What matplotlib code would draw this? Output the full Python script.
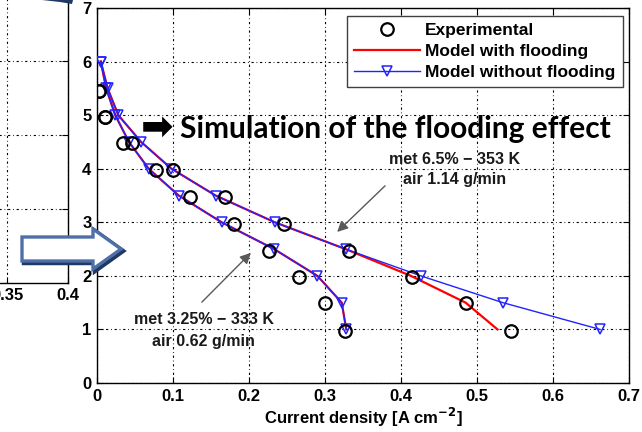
import matplotlib
matplotlib.use("Agg")
import matplotlib.pyplot as plt
from matplotlib.patches import Polygon
import numpy as np

plt.rcParams['font.family'] = ['Liberation Sans', 'DejaVu Sans']
plt.rcParams['font.weight'] = 'bold'

# ---- data ----
# voltage levels used for model and experiment
v_model = [6.0, 5.5, 5.0, 4.5, 4.0, 3.5, 3.0, 2.5, 2.0, 1.5, 1.0]
v_exp = [5.45, 4.96, 4.48, 3.97, 3.47, 2.97, 2.47, 1.98, 1.50, 0.98]

# met 3.25% - 333 K, air 0.62 g/min
i_exp_333 = [0.002, 0.011, 0.034, 0.077, 0.123, 0.180, 0.226, 0.266, 0.300, 0.326]
i_nofl_333 = [0.005, 0.012, 0.024, 0.042, 0.068, 0.1075, 0.164, 0.233, 0.290, 0.322, 0.328]
i_fl_333 = [0.005, 0.012, 0.024, 0.042, 0.068, 0.1075, 0.164, 0.233, 0.290, 0.322, 0.328]

# met 6.5% - 353 K, air 1.14 g/min
i_exp_353 = [0.002, 0.011, 0.046, 0.100, 0.169, 0.246, 0.331, 0.415, 0.486, 0.545]
i_nofl_353 = [0.005, 0.014, 0.028, 0.058, 0.098, 0.156, 0.234, 0.327, 0.426, 0.534, 0.662]
i_fl_353 = [0.005, 0.014, 0.028, 0.058, 0.098, 0.156, 0.234, 0.327, 0.413, 0.485, 0.527]

W, H = 642, 432
fig = plt.figure(figsize=(W / 100, H / 100), dpi=100)


def fx(px):
    return px / W


def fy(py):
    return 1 - py / H


grid_ls = (0, (2, 2.5, 0.7, 2.5))

# ---- partial chart cut at the left edge ----
axl = fig.add_axes([fx(-200), fy(283), fx(268), fy(-87) - fy(283)])
axl.set_xlim(0.1803, 0.4)
axl.set_ylim(0, 5)
axl.set_xticks([0.2, 0.25, 0.3, 0.35, 0.4])
axl.set_xticklabels(['0.2', '0.25', '0.3', '0.35', '0.4'])
axl.set_yticks([1, 2, 3, 4])
axl.set_yticklabels([])
axl.grid(True, color='k', linestyle=grid_ls, linewidth=0.8)
axl.tick_params(direction='in', length=4, labelsize=12, top=True, right=True)
for t in axl.get_xticklabels():
    t.set_fontweight('bold')
for s in axl.spines.values():
    s.set_linewidth(1.0)

# ---- main chart ----
ax = fig.add_axes([fx(97), fy(383), fx(629 - 97), fy(8) - fy(383)])

ax.plot(i_fl_333, v_model, color='#ff0000', lw=1.6, zorder=3)
ax.plot(i_fl_353, v_model, color='#ff0000', lw=1.6, zorder=3, label='Model with flooding')
ax.plot(i_nofl_333, v_model, color='#2222ff', lw=1.0, marker='v', ms=7.5,
        mfc='none', mec='#2222ff', mew=1.1, zorder=4)
ax.plot(i_nofl_353, v_model, color='#2222ff', lw=1.0, marker='v', ms=7.5,
        mfc='none', mec='#2222ff', mew=1.1, zorder=4, label='Model without flooding')
ax.plot(i_exp_333, v_exp, 'o', ms=9, mfc='none', mec='k', mew=1.6, zorder=5)
ax.plot(i_exp_353, v_exp, 'o', ms=9, mfc='none', mec='k', mew=1.6, zorder=5,
        label='Experimental')

ax.set_xlim(0, 0.7)
ax.set_ylim(0, 7)
ax.set_xticks(np.arange(0, 0.71, 0.1))
ax.set_xticklabels(['0', '0.1', '0.2', '0.3', '0.4', '0.5', '0.6', '0.7'])
ax.set_yticks(range(8))
ax.grid(True, color='k', linestyle=grid_ls, linewidth=0.8)
ax.tick_params(direction='in', length=4, labelsize=12, top=True, right=True, pad=4)
for t in ax.get_xticklabels() + ax.get_yticklabels():
    t.set_fontweight('bold')
for s in ax.spines.values():
    s.set_linewidth(1.0)
ax.set_xlabel('Current density [A cm$^{\\mathbf{-2}}$]', fontsize=12, fontweight='bold', labelpad=2)

h, l = ax.get_legend_handles_labels()
order = [2, 0, 1]
leg = ax.legend([h[k] for k in order], [l[k] for k in order], loc='upper right',
                bbox_to_anchor=(0.988, 0.979), borderaxespad=0, fancybox=False,
                edgecolor='0.25', framealpha=1, numpoints=1, handlelength=3.8,
                labelspacing=0.35, handletextpad=0.3, borderpad=0.4,
                prop={'size': 12.5, 'weight': 'bold'})
leg.get_frame().set_linewidth(1.0)

# annotations
ax.text(0.470, 4.17, 'met 6.5% \u2212 353 K', ha='center', va='center', fontsize=11.5,
        fontweight='bold', color='#1a1a1a')
ax.text(0.470, 3.79, 'air 1.14 g/min', ha='center', va='center', fontsize=11.5,
        fontweight='bold', color='#1a1a1a')
ax.text(0.1405, 1.18, 'met 3.25% \u2212 333 K', ha='center', va='center', fontsize=11.5,
        fontweight='bold', color='#1a1a1a')
ax.text(0.1405, 0.77, 'air 0.62 g/min', ha='center', va='center', fontsize=11.5,
        fontweight='bold', color='#1a1a1a')
ax.annotate('', xy=(0.316, 2.82), xytext=(0.379, 3.68),
            arrowprops=dict(arrowstyle='-|>', color='0.35', lw=1.0,
                            mutation_scale=16, shrinkA=0, shrinkB=0))
ax.annotate('', xy=(0.2025, 2.43), xytext=(0.138, 1.51),
            arrowprops=dict(arrowstyle='-|>', color='0.35', lw=1.0,
                            mutation_scale=16, shrinkA=0, shrinkB=0))

# ---- overlays ----
fig.text(fx(141), fy(128), '\u27a1', fontsize=28, family='DejaVu Sans',
         ha='left', va='center', color='k')
fig.text(fx(180), fy(129), 'Simulation of the flooding effect', fontsize=21.5,
         family=['Lato', 'DejaVu Sans'], fontweight='bold', ha='left', va='center',
         color='k')

arrow_pts = [(22, 237), (93, 237), (93, 229), (121, 249), (93, 269), (93, 261), (22, 261)]
shadow = Polygon([(fx(x + 2), fy(y + 2)) for x, y in arrow_pts], closed=True,
                 transform=fig.transFigure, facecolor='none', edgecolor='#1f3864',
                 lw=3.2, zorder=10)
outline = Polygon([(fx(x), fy(y)) for x, y in arrow_pts], closed=True,
                  transform=fig.transFigure, facecolor='white', edgecolor='#4f6fa8',
                  lw=2.4, zorder=11)
fig.add_artist(shadow)
fig.add_artist(outline)

sliver = Polygon([(fx(42), fy(0)), (fx(73), fy(0)), (fx(72), fy(4)), (fx(60), fy(2))],
                 closed=True, transform=fig.transFigure, facecolor='#1f3864',
                 edgecolor='none', zorder=10)
fig.add_artist(sliver)

fig.savefig('out.png', dpi=100)
